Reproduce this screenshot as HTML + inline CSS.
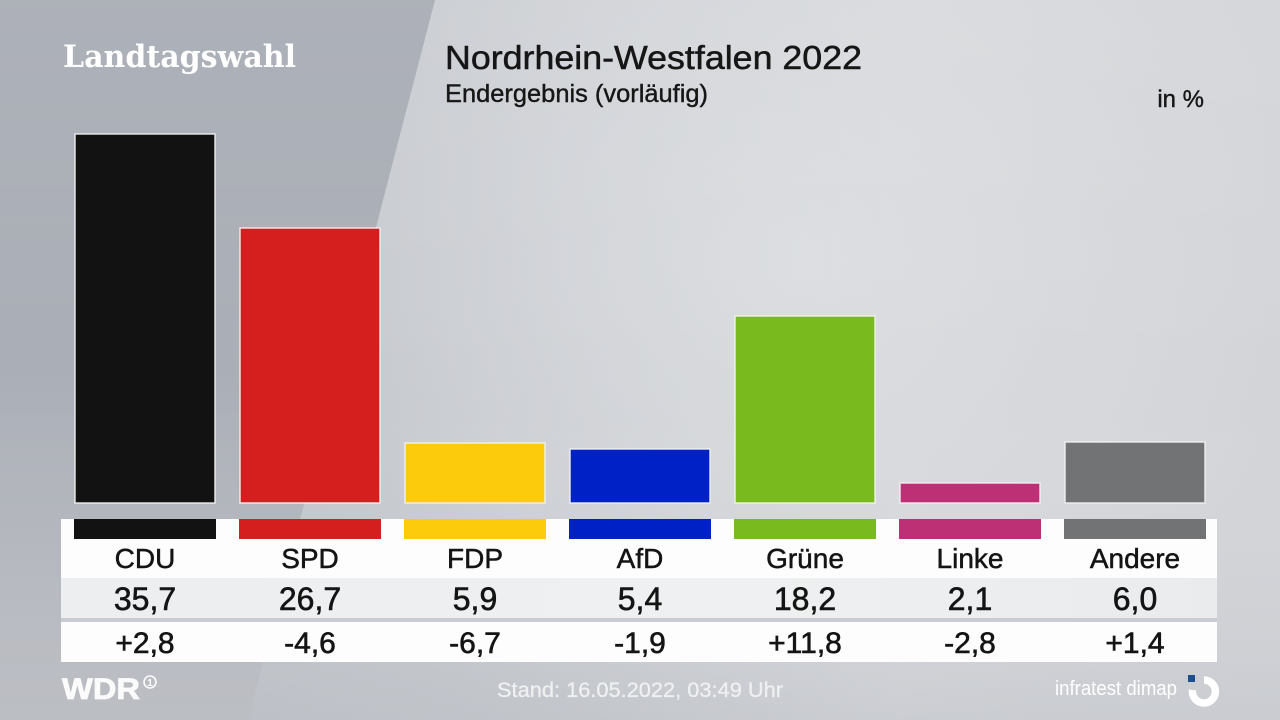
<!DOCTYPE html>
<html>
<head>
<meta charset="utf-8">
<style>
  html,body{margin:0;padding:0;width:1280px;height:720px;overflow:hidden;background:#c8cbd0;}
  svg{display:block;}
  text{font-family:"Liberation Sans","DejaVu Sans",sans-serif;}
</style>
</head>
<body>
<svg width="1280" height="720" viewBox="0 0 1280 720" xmlns="http://www.w3.org/2000/svg">
  <defs>
    <linearGradient id="bgR" x1="0" y1="0" x2="1" y2="0">
      <stop offset="0" stop-color="#bfc2c8"/>
      <stop offset="0.35" stop-color="#c7cacf"/>
      <stop offset="0.7" stop-color="#d3d5d9"/>
      <stop offset="1" stop-color="#d2d4d8"/>
    </linearGradient>
    <radialGradient id="hl" cx="800" cy="260" r="500" gradientUnits="userSpaceOnUse">
      <stop offset="0" stop-color="#dfe1e4" stop-opacity="0.7"/>
      <stop offset="1" stop-color="#dfe1e4" stop-opacity="0"/>
    </radialGradient>
    <linearGradient id="bgV" x1="0" y1="0" x2="0" y2="1">
      <stop offset="0" stop-color="#ffffff" stop-opacity="0.08"/>
      <stop offset="0.55" stop-color="#ffffff" stop-opacity="0"/>
      <stop offset="1" stop-color="#8a8f99" stop-opacity="0.12"/>
    </linearGradient>
    <linearGradient id="bgL" x1="0" y1="0" x2="0" y2="1">
      <stop offset="0" stop-color="#a6aab2"/>
      <stop offset="0.5" stop-color="#aaaeb6"/>
      <stop offset="0.75" stop-color="#b3b6bd"/>
      <stop offset="1" stop-color="#c2c4c9"/>
    </linearGradient>
    <linearGradient id="grayrow" x1="0" y1="0" x2="1" y2="0">
      <stop offset="0" stop-color="#eceef0"/>
      <stop offset="0.6" stop-color="#eef0f1"/>
      <stop offset="1" stop-color="#e9ebed"/>
    </linearGradient>
  </defs>

  <!-- background -->
  <rect x="0" y="0" width="1280" height="720" fill="url(#bgR)"/>
  <rect x="0" y="0" width="1280" height="720" fill="url(#hl)"/>
  <polygon points="0,0 435,0 248,720 0,720" fill="url(#bgL)"/>
  <rect x="0" y="0" width="1280" height="720" fill="url(#bgV)"/>

  <!-- headings -->
  <text x="63" y="67" font-weight="bold" font-size="31" fill="#ffffff" textLength="233" lengthAdjust="spacingAndGlyphs" style="font-family:'DejaVu Serif','Liberation Serif',serif">Landtagswahl</text>
  <text x="445" y="69" font-size="33" fill="#161616" stroke="#161616" stroke-width="0.5" textLength="417" lengthAdjust="spacingAndGlyphs">Nordrhein-Westfalen 2022</text>
  <text x="445" y="102" font-size="25" fill="#161616" stroke="#161616" stroke-width="0.4" textLength="263" lengthAdjust="spacingAndGlyphs">Endergebnis (vorläufig)</text>
  <text x="1204" y="107" font-size="24" fill="#161616" stroke="#161616" stroke-width="0.4" text-anchor="end">in %</text>

  <!-- bars -->
  <g stroke="#f2f2f2" stroke-width="1.5" stroke-opacity="0.9">
    <rect x="75" y="134" width="140" height="369" fill="#121212"/>
    <rect x="240" y="228" width="140" height="275" fill="#d51f1f"/>
    <rect x="405" y="443" width="140" height="60" fill="#fccb0b"/>
    <rect x="570" y="449" width="140" height="54" fill="#0021c6"/>
    <rect x="735" y="316" width="140" height="187" fill="#79ba1e"/>
    <rect x="900" y="483" width="140" height="20" fill="#bd3075"/>
    <rect x="1065" y="442" width="140" height="61" fill="#727375"/>
  </g>

  <!-- table -->
  <rect x="61" y="519" width="1156" height="59" fill="#fdfdfd"/>
  <rect x="61" y="578" width="1156" height="40" fill="url(#grayrow)"/>
  <rect x="61" y="618" width="1156" height="4" fill="#c9cdd3"/>
  <rect x="61" y="622" width="1156" height="40" fill="#fdfdfd"/>

  <!-- color strips -->
  <rect x="74" y="519" width="142" height="20" fill="#121212"/>
  <rect x="239" y="519" width="142" height="20" fill="#d51f1f"/>
  <rect x="404" y="519" width="142" height="20" fill="#fccb0b"/>
  <rect x="569" y="519" width="142" height="20" fill="#0021c6"/>
  <rect x="734" y="519" width="142" height="20" fill="#79ba1e"/>
  <rect x="899" y="519" width="142" height="20" fill="#bd3075"/>
  <rect x="1064" y="519" width="142" height="20" fill="#727375"/>

  <!-- names -->
  <g font-size="28" fill="#141414" stroke="#141414" stroke-width="0.5" text-anchor="middle">
    <text x="145" y="568">CDU</text>
    <text x="310" y="568">SPD</text>
    <text x="475" y="568">FDP</text>
    <text x="640" y="568">AfD</text>
    <text x="805" y="568">Grüne</text>
    <text x="970" y="568">Linke</text>
    <text x="1135" y="568">Andere</text>
  </g>
  <!-- values -->
  <g font-size="32" fill="#141414" stroke="#141414" stroke-width="0.6" text-anchor="middle">
    <text x="145" y="610">35,7</text>
    <text x="310" y="610">26,7</text>
    <text x="475" y="610">5,9</text>
    <text x="640" y="610">5,4</text>
    <text x="805" y="610">18,2</text>
    <text x="970" y="610">2,1</text>
    <text x="1135" y="610">6,0</text>
  </g>
  <!-- changes -->
  <g font-size="30" fill="#141414" stroke="#141414" stroke-width="0.6" text-anchor="middle">
    <text x="145" y="653">+2,8</text>
    <text x="310" y="653">-4,6</text>
    <text x="475" y="653">-6,7</text>
    <text x="640" y="653">-1,9</text>
    <text x="805" y="653">+11,8</text>
    <text x="970" y="653">-2,8</text>
    <text x="1135" y="653">+1,4</text>
  </g>

  <!-- footer -->
  <text x="62" y="699" font-size="30" font-weight="bold" fill="#ffffff" stroke="#ffffff" stroke-width="0.8" textLength="78" lengthAdjust="spacingAndGlyphs" opacity="0.95">WDR</text>
  <circle cx="150" cy="682" r="6" fill="none" stroke="#ffffff" stroke-width="1.6" opacity="0.95"/>
  <text x="150" y="686" font-size="10" font-weight="bold" fill="#ffffff" text-anchor="middle">1</text>

  <text x="497" y="697" font-size="21" fill="#eff0f2" stroke="#eff0f2" stroke-width="0.3" textLength="286" lengthAdjust="spacingAndGlyphs">Stand: 16.05.2022, 03:49 Uhr</text>

  <text x="1055" y="695" font-size="20" fill="#ffffff" textLength="122" lengthAdjust="spacingAndGlyphs">infratest dimap</text>
  <rect x="1188" y="675" width="7" height="7" fill="#1d4f8f"/>
  <path d="M1204,680 A11.5,11.5 0 1 1 1192.5,690" fill="none" stroke="#ffffff" stroke-width="7.5"/>
</svg>
</body>
</html>
